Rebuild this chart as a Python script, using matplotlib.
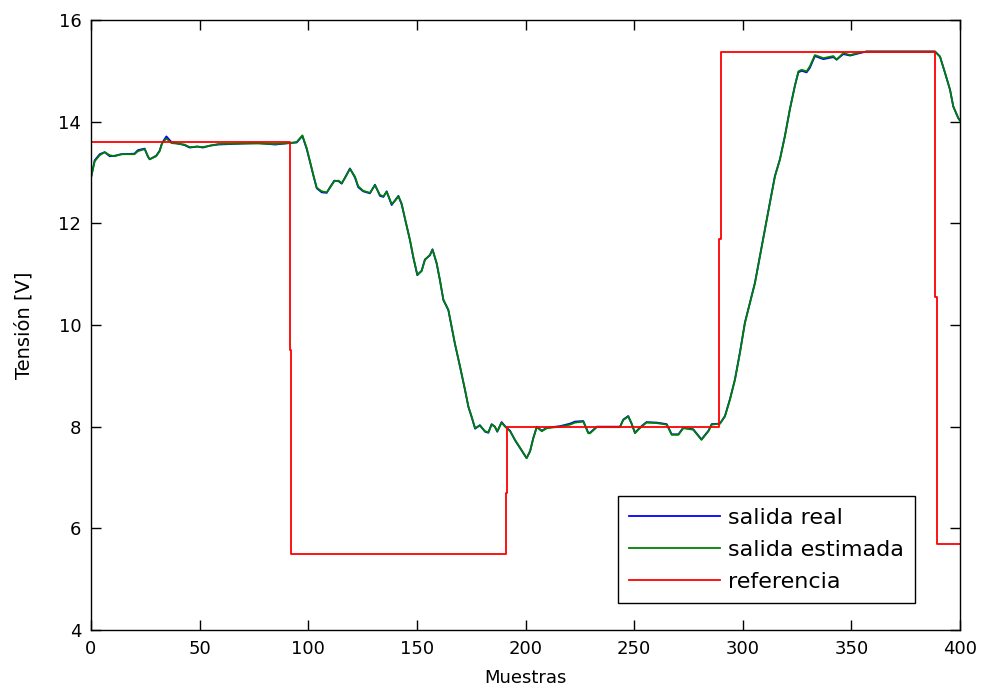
import matplotlib
matplotlib.use("Agg")
import matplotlib.pyplot as plt

# ---- data ----
green_x = [0, 1.7, 4, 6.3, 8.6, 10.9, 14, 20, 21.6, 24.7, 26.2, 27, 30, 31.6, 32.7, 34.7, 37, 43, 45.4, 49,
           51.5, 55, 58.6, 70, 77, 84.7, 91.6, 94.7, 97.3, 99.3, 100.8, 102.3, 103.9, 106.2, 108.5, 110,
           112, 113.9, 115.4, 116.9, 119.2, 121.5, 123, 125.3, 128.4, 130.7, 133, 134.6, 136.1, 138.4,
           139.9, 141.5, 143, 144.5, 146.8, 148.3, 150.2, 152.2, 153.7, 156, 157.2, 159.1, 160.6, 162.2,
           164.5, 166, 167.5, 169.9, 172.2, 173.7, 175.2, 176.8, 179, 181.4, 182.9, 184.4, 185.9, 187,
           189, 190.6, 192.9, 195.2, 198.2, 200.5, 202.1, 203.6, 205.2, 207.5, 209.8, 215.9, 220.5,
           222.8, 226.6, 228.9, 229.7, 232.8, 243.5, 245, 247.3, 248.8, 250.4, 251.9, 253.4, 255.7,
           260.4, 265, 267.3, 270.4, 272.6, 277.2, 281, 284.2, 285.7, 289.5, 291.8, 294.1, 296.4,
           298.7, 301, 303.3, 305.6, 307.9, 310.2, 312.5, 314.8, 317.1, 319.4, 321.7, 324, 325.6,
           327.1, 329.4, 330.9, 333.2, 337.1, 341.7, 343.2, 346.3, 349.4, 354, 357, 388.5, 390.8,
           393.1, 395.4, 396.9, 399.2, 400]
green_y = [12.9, 13.22, 13.34, 13.40, 13.34, 13.32, 13.36, 13.36, 13.42, 13.46, 13.32, 13.26, 13.32, 13.42,
           13.57, 13.67, 13.58, 13.55, 13.50, 13.51, 13.50, 13.53, 13.56, 13.57, 13.57, 13.56, 13.58,
           13.60, 13.73, 13.48, 13.22, 12.96, 12.70, 12.63, 12.61, 12.70, 12.83, 12.84, 12.79, 12.89,
           13.07, 12.92, 12.73, 12.64, 12.60, 12.75, 12.56, 12.53, 12.62, 12.38, 12.44, 12.53, 12.39,
           12.10, 11.68, 11.35, 10.99, 11.06, 11.28, 11.38, 11.48, 11.22, 10.89, 10.50, 10.30, 9.97,
           9.64, 9.18, 8.72, 8.40, 8.20, 7.97, 8.02, 7.91, 7.89, 8.04, 8.00, 7.91, 8.08, 8.00, 7.91,
           7.74, 7.54, 7.38, 7.51, 7.77, 7.99, 7.91, 7.97, 8.00, 8.04, 8.08, 8.10, 7.87, 7.87, 7.99,
           7.99, 8.13, 8.20, 8.07, 7.87, 7.94, 8.00, 8.08, 8.07, 8.04, 7.84, 7.84, 7.97, 7.94, 7.74,
           7.91, 8.04, 8.06, 8.20, 8.53, 8.92, 9.45, 10.04, 10.43, 10.82, 11.35, 11.87, 12.40, 12.92,
           13.25, 13.71, 14.24, 14.70, 14.99, 15.02, 14.99, 15.09, 15.31, 15.25, 15.29, 15.22, 15.35,
           15.31, 15.36, 15.38, 15.38, 15.28, 14.96, 14.63, 14.30, 14.07, 14.02]
blue_y = [12.9, 13.24, 13.36, 13.40, 13.32, 13.33, 13.36, 13.37, 13.44, 13.47, 13.31, 13.26, 13.33, 13.43,
          13.58, 13.71, 13.60, 13.54, 13.49, 13.51, 13.49, 13.53, 13.55, 13.57, 13.58, 13.55, 13.58,
          13.59, 13.72, 13.46, 13.21, 12.95, 12.69, 12.61, 12.60, 12.71, 12.84, 12.83, 12.78, 12.90,
          13.08, 12.90, 12.71, 12.63, 12.59, 12.76, 12.54, 12.52, 12.63, 12.36, 12.45, 12.54, 12.37,
          12.09, 11.67, 11.34, 10.98, 11.07, 11.29, 11.37, 11.49, 11.21, 10.88, 10.49, 10.29, 9.96,
          9.63, 9.17, 8.71, 8.39, 8.19, 7.96, 8.03, 7.90, 7.88, 8.05, 8.00, 7.90, 8.09, 8.01, 7.92,
          7.73, 7.53, 7.38, 7.52, 7.78, 8.00, 7.92, 7.98, 8.01, 8.06, 8.10, 8.11, 7.88, 7.88, 8.00,
          8.00, 8.14, 8.21, 8.06, 7.88, 7.95, 8.01, 8.09, 8.08, 8.05, 7.85, 7.85, 7.98, 7.95, 7.75,
          7.92, 8.05, 8.06, 8.21, 8.54, 8.93, 9.46, 10.05, 10.44, 10.83, 11.36, 11.88, 12.41, 12.93,
          13.26, 13.72, 14.25, 14.71, 14.97, 15.00, 14.97, 15.06, 15.29, 15.23, 15.27, 15.22, 15.33,
          15.30, 15.35, 15.38, 15.38, 15.28, 14.96, 14.63, 14.30, 14.07, 14.02]
ref_x = [0, 91.4, 91.4, 92.2, 92.2, 190.9, 190.9, 191.7, 191.7, 289.2, 289.2, 290.0, 290.0,
         388.6, 388.6, 389.4, 389.4, 400]
ref_y = [13.6, 13.6, 9.5, 9.5, 5.5, 5.5, 6.7, 6.7, 8.0, 8.0, 11.7, 11.7, 15.38,
         15.38, 10.56, 10.56, 5.7, 5.7]
x_ticks = [0, 50, 100, 150, 200, 250, 300, 350, 400]
y_ticks = [4, 6, 8, 10, 12, 14, 16]
labels = ["salida real", "salida estimada", "referencia"]

plt.rcParams['font.family'] = ['DejaVu Sans']

fig = plt.figure(figsize=(9.83, 6.89), dpi=100)
ax = fig.add_axes([91/983, 59/689, 869/983, 610/689])

ax.plot(green_x, blue_y, color=(0, 0, 1), lw=1.3, label=labels[0])
ax.plot(green_x, green_y, color=(0, 0.5, 0), lw=1.3, label=labels[1])
ax.plot(ref_x, ref_y, color=(1, 0, 0), lw=1.3, label=labels[2])

ax.set_xlim(0, 400)
ax.set_ylim(4, 16)
ax.set_xticks(x_ticks)
ax.set_yticks(y_ticks)
ax.tick_params(direction='in', length=7, width=1, labelsize=13, top=True, right=True, pad=7)
for s in ax.spines.values():
    s.set_linewidth(1)
ax.set_xlabel("Muestras", fontsize=13, labelpad=8)
ax.set_ylabel("Tensión [V]", fontsize=14, labelpad=18)

leg = ax.legend(loc='lower right', bbox_to_anchor=(0.948, 0.044), fontsize=16, frameon=True,
                fancybox=False, edgecolor='black', framealpha=1, handlelength=4.1,
                borderpad=0.5, labelspacing=0.55, handletextpad=0.35, borderaxespad=0)
leg.get_frame().set_linewidth(1)

fig.savefig("out.png", dpi=100)
